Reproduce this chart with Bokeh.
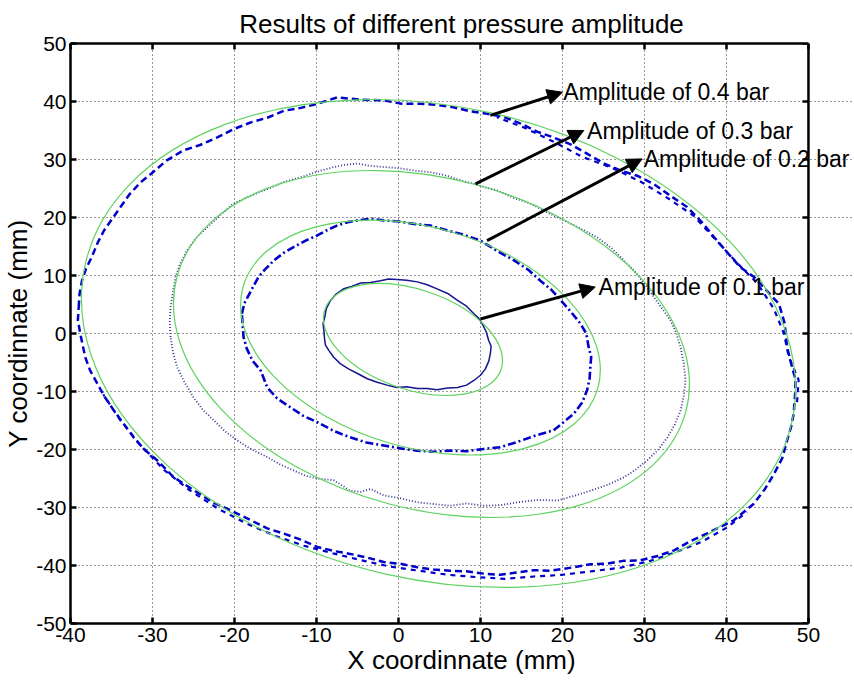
from math import pi
from bokeh.plotting import figure
from bokeh.models import Range1d, LinearAxis, Arrow, NormalHead, Label, FixedTicker, Span
from bokeh.embed import file_html
from bokeh.resources import INLINE

x_ticks = [-40, -30, -20, -10, 0, 10, 20, 30, 40, 50]
y_ticks = [-50, -40, -30, -20, -10, 0, 10, 20, 30, 40, 50]
NAN = float("nan")

# measured traces
b01_x = [-9.1,-9.2,-9.0,-8.8,-8.3,-7.6,-6.7,-5.7,-4.6,-3.4,-2.2,-1.2,-0.2,1.0,2.3,3.5,4.7,6.0,7.2,8.3,
         9.2,9.8,10.2,10.7,11.0,11.3,11.2,11.0,10.6,10.0,9.2,8.3,7.2,6.0,4.7,3.5,2.3,1.0,-0.2,-1.4,
         -2.6,-3.8,-5.0,-6.1,-7.1,-7.9,-8.5,-8.9,-9.0,-9.1]
b01_y = [0.5,1.7,2.8,4.3,5.7,6.8,7.7,8.1,8.7,8.8,9.1,9.4,9.3,9.2,8.9,8.4,7.7,6.9,5.7,4.7,
         3.4,2.6,1.7,0.3,-1.2,-2.2,-3.5,-4.8,-6.1,-7.2,-8.1,-8.9,-9.3,-9.4,-9.7,-9.5,-9.5,-9.2,-9.3,-8.9,
         -8.4,-7.8,-6.9,-6.1,-5.2,-4.1,-2.9,-2.0,-1.2,0.5]

b02_x = [-19.1,-18.8,-18.2,-17.1,-16.3,-15.2,-14.0,-12.8,-11.2,-9.9,-8.6,-7.5,-6.2,-5.0,-3.4,
         -1.8,0.1,1.9,3.9,5.9,8.0,10.0,12.2,14.1,15.9,17.3,18.6,19.8,21.1,22.2,22.9,23.2,23.5,23.4,23.3,
         23.0,22.4,21.4,20.3,18.9,16.7,14.5,12.4,10.4,8.3,6.3,4.3,2.3,0.2,-1.8,-3.9,-5.9,-7.9,-9.9,-11.6,
         -13.2,-14.8,-16.0,-16.8,-17.8,-18.5,-18.9,-19.1]
b02_y = [3.4,5.2,6.8,9.7,11.0,12.6,13.9,14.9,16.1,16.9,17.9,18.6,19.2,19.5,19.8,
         19.5,19.3,18.9,18.6,17.8,17.0,16.0,14.1,12.6,10.9,9.1,7.6,5.7,3.6,1.7,0.0,-2.4,-4.0,-5.8,-7.9,
         -9.8,-11.9,-13.8,-15.1,-16.7,-17.6,-18.7,-19.6,-19.9,-20.3,-20.2,-20.4,-20.2,-19.8,-19.3,-18.8,-17.9,-16.8,-15.3,-14.2,
         -12.7,-11.2,-9.3,-6.4,-4.7,-2.6,-0.6,3.4]

b03_x = [-27.8,-27.9,-27.8,-27.5,-27.2,-26.6,-25.8,-24.6,-23.1,-21.6,
         -20.1,-18.1,-16.0,-14.0,-12.0,-9.9,-7.9,-6.4,-5.0,-3.4,
         -1.8,0.1,1.9,3.9,5.9,7.6,9.2,10.6,12.0,14.0,
         16.1,18.2,20.2,22.2,24.2,26.0,27.5,29.0,30.3,31.8,
         33.2,33.9,34.4,34.8,35.0,34.8,34.4,33.7,32.8,31.7,
         30.3,29.0,27.5,25.5,23.4,21.4,19.4,17.0,14.5,12.4,
         10.4,8.3,6.3,4.3,2.3,0.2,-1.8,-3.4,-4.6,-5.9,
         -7.9,-9.9,-11.4,-12.8,-14.4,-16.0,-17.9,-19.7,-21.2,-22.5,
         -23.9,-25.0,-26.1,-27.0,-27.5,-27.8]
b03_y = [-0.6,2.0,4.5,7.2,9.7,12.1,14.3,16.6,18.6,20.6,
         22.4,23.7,24.9,26.1,26.9,27.9,28.7,29.1,29.3,28.9,
         28.7,28.5,28.1,27.8,27.2,26.4,25.8,25.2,24.7,23.4,
         22.4,20.8,19.5,18.1,16.6,14.7,12.6,10.4,8.0,5.0,
         2.2,0.0,-2.4,-5.2,-8.1,-10.7,-13.3,-15.7,-17.9,-20.0,
         -21.9,-23.4,-24.8,-26.1,-27.1,-28.0,-28.8,-28.7,-29.1,-29.6,
         -29.7,-29.3,-29.7,-29.4,-29.1,-28.4,-27.9,-26.8,-27.3,-27.1,
         -25.3,-25.0,-24.5,-23.6,-22.6,-21.3,-20.0,-18.4,-16.8,-15.0,
         -13.1,-11.0,-8.4,-5.8,-3.2,-0.6]

b04_x = [-39.0,-38.9,-38.6,-38.1,-37.4,-36.7,-35.9,-35.0,-33.9,-32.8,
         -31.5,-30.2,-28.3,-26.2,-24.2,-22.1,-20.0,-18.0,-16.0,-14.0,
         -11.9,-9.9,-7.5,-4.5,-1.8,0.4,2.7,4.7,6.7,8.8,
         10.8,12.9,14.9,16.9,18.9,21.0,23.0,25.1,27.1,29.1,
         31.1,33.2,35.2,37.0,38.5,40.2,41.7,43.4,44.9,46.4,
         46.8,47.1,47.4,48.0,48.4,48.4,48.2,47.9,47.4,46.8,
         45.8,44.7,43.3,40.9,37.6,35.6,33.6,31.5,29.5,27.4,
         25.4,23.4,21.4,18.5,16.5,14.5,12.4,10.4,8.3,6.3,
         4.3,2.3,0.2,-1.8,-3.9,-5.9,-7.9,-9.9,-12.0,-14.0,
         -16.0,-18.0,-20.3,-22.5,-25.0,-27.4,-29.4,-31.0,-32.3,-33.6,
         -34.7,-35.8,-36.7,-37.6,-38.2,-38.8,-39.1,-39.0]
b04_y = [4.5,6.8,9.1,11.2,13.2,15.6,17.8,19.6,21.8,24.0,
         26.0,27.5,29.8,31.6,32.5,33.8,35.3,36.4,37.2,38.4,
         38.9,39.6,40.7,40.3,40.2,39.6,39.6,39.4,39.0,38.3,
         37.9,37.3,36.2,34.8,33.8,32.6,31.0,29.3,28.1,27.2,
         25.8,23.7,21.8,19.2,16.6,13.8,11.4,9.7,7.4,5.1,
         3.2,1.7,-2.4,-5.8,-7.8,-9.8,-13.8,-16.0,-18.4,-21.5,
         -24.2,-26.8,-29.4,-32.2,-34.5,-35.8,-37.4,-38.4,-39.1,-39.2,
         -39.7,-39.8,-40.3,-40.9,-40.8,-41.2,-41.6,-41.4,-41.0,-40.9,
         -40.7,-40.3,-39.7,-39.4,-38.6,-38.0,-37.5,-36.8,-35.5,-34.5,
         -33.6,-32.2,-30.6,-29.2,-27.0,-24.8,-21.9,-20.0,-17.9,-15.4,
         -13.3,-11.0,-8.7,-6.4,-4.1,-0.1,2.3,4.5]

# second pass of the 0.4 bar trace, where it visibly doubles
b04b_x = [12.0,15.5,19.0,22.5,26.0,29.5,33.0,36.0,38.8,41.2,43.8,45.8,47.0,47.6,48.8,48.6, NAN,
          -36.0,-34.0,-31.5,-28.6,-25.5,-22.0,-18.5,-15.0,-11.5,-8.0,-4.5,-1.0,2.5,6.0,9.5,13.0,
          16.5,20.0,23.5,27.0,30.5,34.0,37.0,40.0,42.5]
b04b_y = [37.3,35.4,33.0,30.4,28.6,26.2,23.2,20.3,16.0,12.3,8.6,4.2,0.0,-4.0,-8.0,-12.0, NAN,
          -10.5,-14.8,-19.2,-23.5,-27.0,-30.2,-32.8,-34.9,-36.6,-37.9,-39.1,-40.2,-40.9,-41.6,-42.0,-42.3,
          -41.9,-41.6,-41.0,-40.4,-39.3,-37.6,-35.9,-33.5,-30.8]

# fitted ellipses (centre, width, height, angle in rad)
fit_cx = [1.77, 2.68, 4.02, 4.88]
fit_cy = [-1.03, -0.69, -1.81, -1.72]
fit_w = [22.7, 45.0, 64.2, 88.3]
fit_h = [17.2, 37.97, 57.07, 81.6]
fit_angle = [-0.328, -0.281, -0.258, -0.220]

# annotations
arrow_x0 = [11.2, 9.4, 10.8, 10.0]
arrow_y0 = [37.6, 25.8, 16.0, 2.5]
arrow_x1 = [20.0, 22.6, 29.7, 24.0]
arrow_y1 = [41.6, 35.0, 30.1, 8.0]
label_text = ["Amplitude of 0.4 bar", "Amplitude of 0.3 bar", "Amplitude of 0.2 bar", "Amplitude of 0.1 bar"]
label_x = [20.1, 23.0, 29.9, 24.4]

FONT = "Liberation Sans"
X_VIEW_END = 55.37   # frame continues past the box so the long labels are not cut

p = figure(width=854, height=682, x_range=Range1d(x_ticks[0], X_VIEW_END), y_range=Range1d(y_ticks[0], y_ticks[-1]),
           output_backend="svg", toolbar_location=None,
           title="Results of different pressure amplitude",
           x_axis_label="X coordinnate (mm)", y_axis_label="Y coordinnate (mm)",
           min_border_left=70, min_border_right=2, min_border_top=43, min_border_bottom=59)

p.title.text_font = FONT
p.title.text_font_size = "26px"
p.title.text_font_style = "normal"
p.title.text_color = "black"
p.title.align = "center"
p.title.vertical_align = "top"
p.title.standoff = 6
p.title.offset = 0

p.outline_line_color = None
p.background_fill_color = "white"
p.border_fill_color = "white"

xb = (x_ticks[0], x_ticks[-1])
for ax, ticks in ((p.xaxis[0], x_ticks), (p.yaxis[0], y_ticks)):
    ax.ticker = FixedTicker(ticks=ticks)
    ax.major_label_overrides = {t: str(t) for t in ticks}
    ax.axis_line_color = "black"
    ax.axis_line_width = 2.5
    ax.major_tick_in = 6
    ax.major_tick_out = 0
    ax.major_tick_line_width = 2.5
    ax.minor_tick_line_color = None
    ax.major_label_text_font = FONT
    ax.major_label_text_font_size = "21px"
    ax.major_label_text_color = "black"
    ax.axis_label_text_font = FONT
    ax.axis_label_text_font_size = "26px"
    ax.axis_label_text_font_style = "normal"
    ax.axis_label_text_color = "black"
    ax.axis_label_standoff = 0
p.xaxis[0].bounds = xb
p.xaxis.major_label_standoff = 4
p.yaxis.major_label_standoff = 4

top_ax = LinearAxis(ticker=FixedTicker(ticks=x_ticks), bounds=xb, axis_line_color="black", axis_line_width=2.5,
                    major_tick_in=6, major_tick_out=0, major_tick_line_width=2.5, minor_tick_line_color=None,
                    major_label_text_color=None, major_label_text_font_size="1px", major_label_standoff=0)
p.add_layout(top_ax, "above")

# right side of the box and its inward ticks
p.add_layout(Span(location=x_ticks[-1], dimension="height", line_color="black", line_width=2.5))
p.ray(x=[x_ticks[-1]] * len(y_ticks), y=y_ticks, length=6, length_units="screen", angle=pi,
      line_color="black", line_width=2.5)

p.xgrid[0].ticker = FixedTicker(ticks=x_ticks)
p.ygrid[0].ticker = FixedTicker(ticks=y_ticks)
p.ygrid[0].bounds = xb
for g in (p.xgrid[0], p.ygrid[0]):
    g.grid_line_color = "black"
    g.grid_line_dash = "1 3"
    g.grid_line_width = 1
    g.grid_line_alpha = 0.8

p.line(b04_x, b04_y, line_color="#0000cc", line_width=2.5, line_dash="7 4")
p.line(b04b_x, b04b_y, line_color="#0000cc", line_width=2.2, line_dash="5 5", line_dash_offset=3)
p.line(b03_x, b03_y, line_color="#33338f", line_width=1.8, line_dash="1 2")
p.line(b02_x, b02_y, line_color="#0000c8", line_width=2.6, line_dash="8 3 2 3")
p.line(b01_x, b01_y, line_color="#14148f", line_width=1.5)

p.ellipse(x=fit_cx, y=fit_cy, width=fit_w, height=fit_h, angle=fit_angle,
          fill_color=None, line_color="#5fd35f", line_width=1.2)

for i in range(4):
    p.add_layout(Arrow(end=NormalHead(size=15, fill_color="black", line_color="black"),
                       x_start=arrow_x0[i], y_start=arrow_y0[i], x_end=arrow_x1[i], y_end=arrow_y1[i],
                       line_color="black", line_width=3))
    p.add_layout(Label(x=label_x[i], y=arrow_y1[i], text=label_text[i], text_font=FONT,
                       text_font_size="23px", text_baseline="middle", text_align="left",
                       text_color="black"))

open("out.html", "w").write(file_html(p, INLINE))
